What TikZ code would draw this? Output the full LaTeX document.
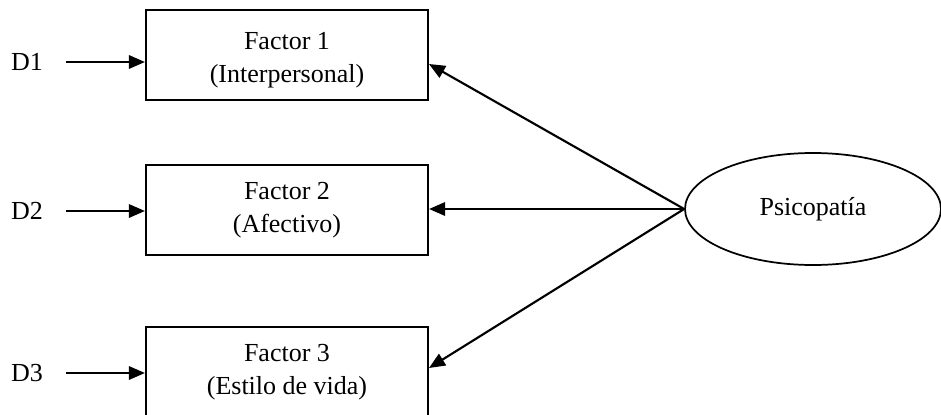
\documentclass[tikz,border=0pt]{standalone}
\usepackage{fontspec}
\setmainfont{Liberation Serif}
\usetikzlibrary{arrows.meta,shapes.geometric}
\begin{document}
\begin{tikzpicture}[x=0.75pt,y=-0.75pt,
  every node/.style={font=\fontsize{19.5}{25}\selectfont},
  factor/.style={draw,line width=1.6pt,minimum width=211.5pt,minimum height=67.5pt,align=center,inner sep=0pt},
  latent/.style={draw,line width=1.3pt,ellipse,minimum width=192pt,minimum height=84pt,inner sep=0pt},
  path/.style={line width=1.6pt,-{Triangle[length=12pt,width=10pt]}}]
\clip (0,0) rectangle (941,414);
\useasboundingbox (0,0) rectangle (941,414);

% observed factors (a strut lowers the first box's text a little)
\node[factor] (b1) at (287,55) {\rule{0pt}{21pt}Factor 1\\(Interpersonal)};
\node[factor] (b2) at (287,210) {Factor 2\\(Afectivo)};
\node[factor] (b3) at (287,372) {Factor 3\\(Estilo de vida)};

% latent construct
\node[latent] (psy) at (813,209) {Psicopatía};

% disturbance labels
\node (d1) at (27,62) {D1};
\node (d2) at (27,211) {D2};
\node (d3) at (27,373) {D3};

\coordinate (s1) at (66,62);
\coordinate (s2) at (66,211);
\coordinate (s3) at (66,373);
\draw[path] (s1) -- (s1 -| b1.west);
\draw[path] (s2) -- (s2 -| b2.west);
\draw[path] (s3) -- (s3 -| b3.west);

% loadings
\coordinate (t1) at (429,64);
\coordinate (t3) at (429,368);
\draw[path] (psy.west) -- (t1);
\draw[path] (psy.west) -- (psy.west -| b2.east);
\draw[path] (psy.west) -- (t3);
\end{tikzpicture}
\end{document}
